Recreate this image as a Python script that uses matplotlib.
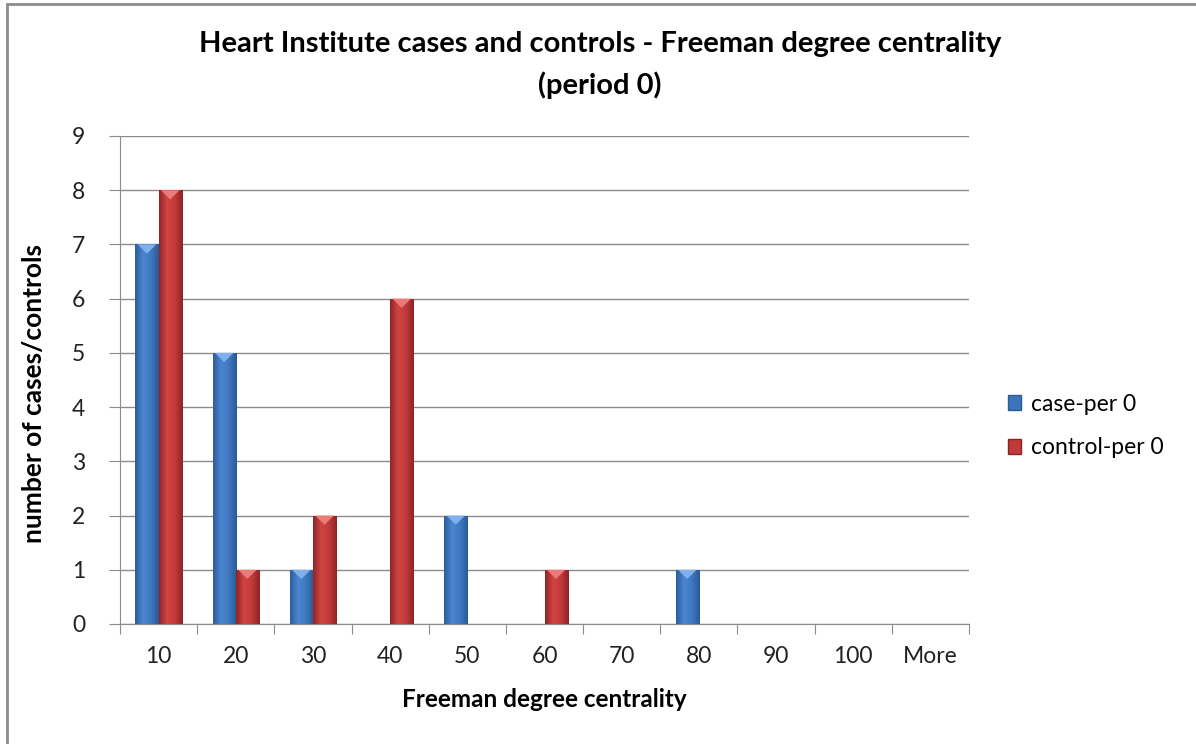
import matplotlib
matplotlib.use("Agg")
import matplotlib.pyplot as plt
import numpy as np
from matplotlib.patches import Rectangle, Polygon, Patch
from matplotlib.colors import LinearSegmentedColormap

plt.rcParams['font.family'] = ['Lato', 'DejaVu Sans']

categories = ["10", "20", "30", "40", "50", "60", "70", "80", "90", "100", "More"]
case_per0 = [7, 5, 1, 0, 2, 0, 0, 1, 0, 0, 0]
control_per0 = [8, 1, 2, 6, 0, 1, 0, 0, 0, 0, 0]
series_names = ["case-per 0", "control-per 0"]

W, H = 1196, 744
fig = plt.figure(figsize=(W / 100, H / 100), dpi=100)
ax = fig.add_axes([120 / W, 1 - 624 / H, (969 - 120) / W, (624 - 136) / H])

# frame around chart
fig.patches.append(Rectangle((7 / W, -0.05), 1.1, 1 - 4 / H + 0.05, transform=fig.transFigure,
                             fill=False, edgecolor="#8c8c8c", linewidth=2.0))

x = np.arange(len(categories))
bw = 0.3
blue_cmap = LinearSegmentedColormap.from_list("b", ["#2c5d9c", "#4a86d0", "#3f78c0", "#2a5a97"])
red_cmap = LinearSegmentedColormap.from_list("r", ["#8f2426", "#d24443", "#c13a3a", "#8e2325"])

def draw(vals, offset, cmap, tri):
    bars = ax.bar(x + offset, vals, width=bw, color="none", edgecolor="none", zorder=3)
    grad = np.linspace(0, 1, 64).reshape(1, -1)
    for b, v in zip(bars, vals):
        if v <= 0:
            continue
        x0, w = b.get_x(), b.get_width()
        im = ax.imshow(grad, cmap=cmap, extent=[x0, x0 + w, 0, v], aspect="auto", zorder=3)
        im.set_clip_path(b)
        ax.add_patch(Polygon([[x0 + w * 0.1, v], [x0 + w * 0.9, v], [x0 + w / 2, v - 0.17]],
                             closed=True, facecolor=tri, edgecolor="none", zorder=4))
    return bars

draw(case_per0, -bw / 2, blue_cmap, "#7fb0ea")
draw(control_per0, bw / 2, red_cmap, "#ea7b78")

ax.set_xlim(-0.5, len(categories) - 0.5)
ax.set_ylim(0, 9)
ax.set_yticks(range(0, 10))
ax.yaxis.grid(True, color="#8c8c8c", linewidth=1.0, zorder=0)
ax.set_axisbelow(True)
for s in ["top", "right"]:
    ax.spines[s].set_visible(False)
ax.spines["left"].set_color("#8c8c8c")
ax.spines["bottom"].set_color("#8c8c8c")
ax.set_xticks(np.arange(-0.5, len(categories) + 0.5, 1))
ax.set_xticklabels([])
ax.set_xticks(x, minor=True)
ax.set_xticklabels(categories, minor=True)
ax.tick_params(axis="x", which="major", length=7, color="#8c8c8c", direction="out")
ax.tick_params(axis="x", which="minor", length=0, pad=16, labelsize=16.5, labelcolor="#222222")
ax.tick_params(axis="y", length=8, color="#8c8c8c", pad=17, labelsize=16.5, labelcolor="#222222")

ax.set_xlabel("Freeman degree centrality", fontsize=17.5, fontweight="bold")
ax.xaxis.set_label_coords(0.5, -0.132)
ax.set_ylabel("number of cases/controls", fontsize=19, fontweight="bold")
ax.yaxis.set_label_coords(-0.087, 0.473)
fig.text(600 / W, 1 - 65 / H,
         "Heart Institute cases and controls - Freeman degree centrality\n(period 0)",
         ha="center", va="center", fontsize=21, fontweight="bold", linespacing=1.6)

# legend
handles = [Patch(facecolor="#3d73bb", edgecolor="#2a5a97"), Patch(facecolor="#bf3a3a", edgecolor="#8e2325")]
fig.legend(handles, series_names, loc="center left", bbox_to_anchor=(987 / W, 1 - 426 / H),
           frameon=False, fontsize=16.5, handlelength=0.6, handleheight=0.6, handletextpad=0.4,
           labelspacing=1.0)

fig.savefig("out.png", dpi=100)
